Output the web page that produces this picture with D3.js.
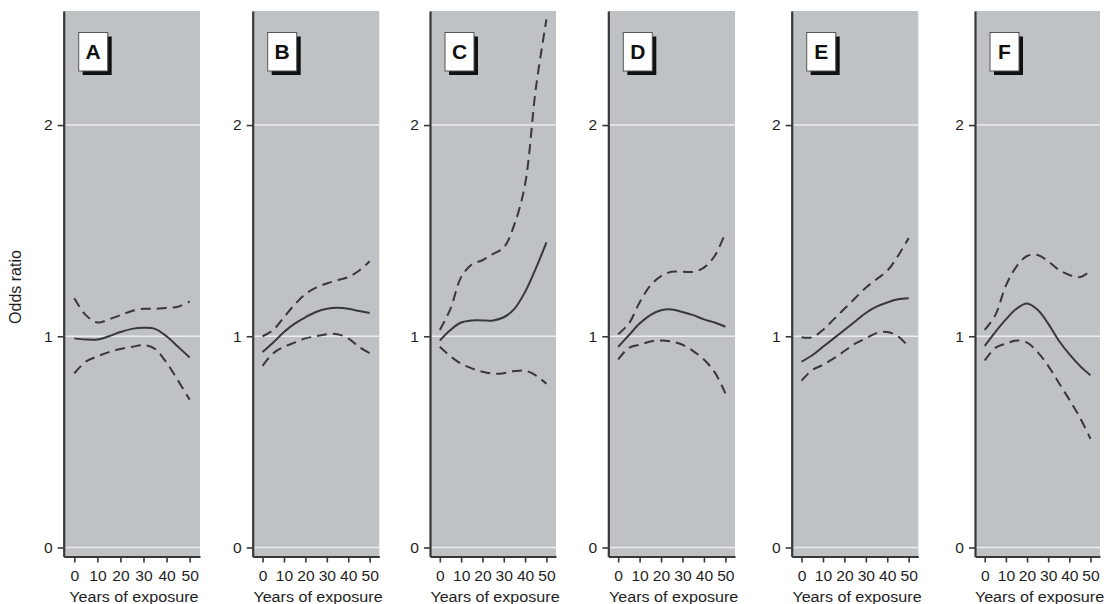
<!DOCTYPE html>
<html>
<head>
<meta charset="utf-8">
<script src="https://cdn.jsdelivr.net/npm/d3@7"></script>
<style>
  html, body { margin: 0; padding: 0; background: #ffffff; }
  svg { display: block; font-family: "Liberation Sans", Arial, sans-serif; }
</style>
</head>
<body>
<svg id="chart" width="1110" height="604"></svg>
<script>
// Exposure years at which the spline estimates are tabulated
const years = [0, 5, 10, 15, 20, 25, 30, 35, 40, 45, 50];

// Panel A
const oddsA  = [0.99, 0.985, 0.985, 1.00, 1.02, 1.035, 1.04, 1.035, 1.00, 0.95, 0.90];
const lowerA = [0.825, 0.88, 0.905, 0.925, 0.94, 0.95, 0.958, 0.94, 0.875, 0.79, 0.70];
const upperA = [1.18, 1.10, 1.065, 1.08, 1.10, 1.12, 1.13, 1.13, 1.135, 1.14, 1.165];

// Panel B
const oddsB  = [0.925, 0.97, 1.02, 1.06, 1.09, 1.115, 1.13, 1.135, 1.13, 1.12, 1.11];
const lowerB = [0.86, 0.92, 0.95, 0.97, 0.99, 1.00, 1.01, 1.01, 0.99, 0.95, 0.92];
const upperB = [1.00, 1.03, 1.09, 1.15, 1.20, 1.23, 1.25, 1.265, 1.28, 1.31, 1.355];

// Panel C
const oddsC  = [0.98, 1.03, 1.065, 1.075, 1.075, 1.075, 1.09, 1.13, 1.21, 1.32, 1.445];
const lowerC = [0.95, 0.905, 0.87, 0.848, 0.832, 0.823, 0.825, 0.835, 0.837, 0.815, 0.775];
const upperC = [1.03, 1.13, 1.28, 1.34, 1.36, 1.39, 1.42, 1.53, 1.72, 2.17, 2.50];

// Panel D
const oddsD  = [0.95, 1.005, 1.06, 1.10, 1.123, 1.127, 1.115, 1.10, 1.08, 1.065, 1.045];
const lowerD = [0.89, 0.945, 0.96, 0.975, 0.98, 0.975, 0.96, 0.93, 0.89, 0.83, 0.73];
const upperD = [1.01, 1.06, 1.16, 1.24, 1.285, 1.305, 1.305, 1.305, 1.325, 1.38, 1.49];

// Panel E
const oddsE  = [0.88, 0.91, 0.95, 0.99, 1.03, 1.07, 1.11, 1.14, 1.16, 1.175, 1.18];
const lowerE = [0.79, 0.84, 0.865, 0.895, 0.93, 0.965, 0.99, 1.015, 1.02, 1.00, 0.95];
const upperE = [0.995, 0.995, 1.03, 1.08, 1.13, 1.18, 1.23, 1.27, 1.31, 1.38, 1.465];

// Panel F
const oddsF  = [0.955, 1.02, 1.08, 1.13, 1.155, 1.125, 1.06, 0.98, 0.915, 0.86, 0.815];
const lowerF = [0.885, 0.945, 0.965, 0.98, 0.97, 0.925, 0.86, 0.78, 0.70, 0.615, 0.515];
const upperF = [1.03, 1.10, 1.24, 1.33, 1.38, 1.385, 1.355, 1.315, 1.29, 1.28, 1.31];

const panelLabels = ["A", "B", "C", "D", "E", "F"];
const xTickValues = [0, 10, 20, 30, 40, 50];
const yTickValues = [0, 1, 2];
const xTitle = "Years of exposure";
const yTitle = "Odds ratio";

const panelSeries = [
  { odds: oddsA, lower: lowerA, upper: upperA },
  { odds: oddsB, lower: lowerB, upper: upperB },
  { odds: oddsC, lower: lowerC, upper: upperC },
  { odds: oddsD, lower: lowerD, upper: upperD },
  { odds: oddsE, lower: lowerE, upper: upperE },
  { odds: oddsF, lower: lowerF, upper: upperF }
];

// Layout: horizontal extent of each small multiple
const panelLeft  = [63.7, 252.7, 430, 608.3, 791.7, 975];
const panelRight = [200, 379.3, 556, 735, 918.3, 1100];
const plotTop = 11, plotBottom = 556.5;

const svg = d3.select("#chart");
const y = d3.scaleLinear().domain([-0.0427, 2.54]).range([plotBottom, plotTop]);

const ink = "#383838";
const stretch = "scale(1.04,1)";
const textFill = "#1e1e1e";

panelLabels.forEach((label, i) => {
  const x = d3.scaleLinear().domain([-4.6, 54.5]).range([panelLeft[i], panelRight[i]]);
  const g = svg.append("g");

  // Panel background
  g.append("rect")
    .attr("x", panelLeft[i]).attr("y", plotTop)
    .attr("width", panelRight[i] - panelLeft[i]).attr("height", plotBottom - plotTop)
    .attr("fill", "#bfc2c5");

  // Reference gridlines
  g.selectAll("line.grid").data(yTickValues).join("line")
    .attr("class", "grid")
    .attr("x1", panelLeft[i]).attr("x2", panelRight[i])
    .attr("y1", d => y(d)).attr("y2", d => y(d))
    .attr("stroke", "#eceded").attr("stroke-width", 1.6);

  // Curves: estimate (solid) and confidence limits (dashed)
  const s = panelSeries[i];
  const line = d3.line().x((d, k) => x(years[k])).y(d => y(d)).curve(d3.curveCatmullRom.alpha(0.5));
  [["lower", "10,6"], ["upper", "10,6"], ["odds", null]].forEach(([key, dash]) => {
    g.append("path")
      .datum(s[key])
      .attr("d", line)
      .attr("fill", "none")
      .attr("stroke", ink)
      .attr("stroke-width", 2)
      .attr("stroke-dasharray", dash);
  });

  // Axes
  const ax = g.append("g")
    .attr("transform", `translate(${panelLeft[i]},0)`)
    .call(d3.axisLeft(y).tickValues(yTickValues).tickSize(6).tickSizeOuter(0).tickFormat(d3.format("d")));
  ax.select(".domain").attr("stroke", ink).attr("stroke-width", 2.2);
  ax.selectAll(".tick line").attr("stroke", ink).attr("stroke-width", 1.6);
  ax.selectAll(".tick text")
    .attr("x", 0)
    .attr("transform", `translate(-11,0) ${stretch}`)
    .attr("font-size", 15).attr("fill", textFill).attr("font-family", "Liberation Sans, Arial, sans-serif");

  const bx = g.append("g")
    .attr("transform", `translate(0,${plotBottom})`)
    .call(d3.axisBottom(x).tickValues(xTickValues).tickSize(6).tickSizeOuter(0).tickPadding(8));
  bx.select(".domain").attr("stroke", ink).attr("stroke-width", 2.2);
  bx.selectAll(".tick line").attr("stroke", ink).attr("stroke-width", 1.6);
  bx.selectAll(".tick text")
    .attr("transform", stretch)
    .attr("font-size", 15).attr("fill", textFill).attr("font-family", "Liberation Sans, Arial, sans-serif");

  // Axis title under each panel
  g.append("text")
    .attr("transform", `translate(${(panelLeft[i] + panelRight[i]) / 2 + 2},601.5) ${stretch}`)
    .attr("text-anchor", "middle")
    .attr("font-size", 15.5).attr("fill", textFill)
    .text(xTitle);

  // Panel letter in a shadowed box
  const bxX = panelLeft[i] + 15, bxY = 32.5, bw = 29, bh = 38.5;
  g.append("rect").attr("x", bxX + 4).attr("y", bxY + 4).attr("width", bw).attr("height", bh).attr("fill", "#111");
  g.append("rect").attr("x", bxX).attr("y", bxY).attr("width", bw).attr("height", bh)
    .attr("fill", "#ffffff").attr("stroke", "#555").attr("stroke-width", 1);
  g.append("text")
    .attr("transform", `translate(${bxX + bw / 2},59) scale(1.05,1)`)
    .attr("text-anchor", "middle")
    .attr("font-size", 20).attr("font-weight", "bold").attr("fill", "#111")
    .text(label);
});

// Shared y title
svg.append("text")
  .attr("transform", "translate(21,287) rotate(-90)")
  .attr("text-anchor", "middle")
  .attr("font-size", 16).attr("fill", textFill)
  .text(yTitle);
</script>
</body>
</html>
